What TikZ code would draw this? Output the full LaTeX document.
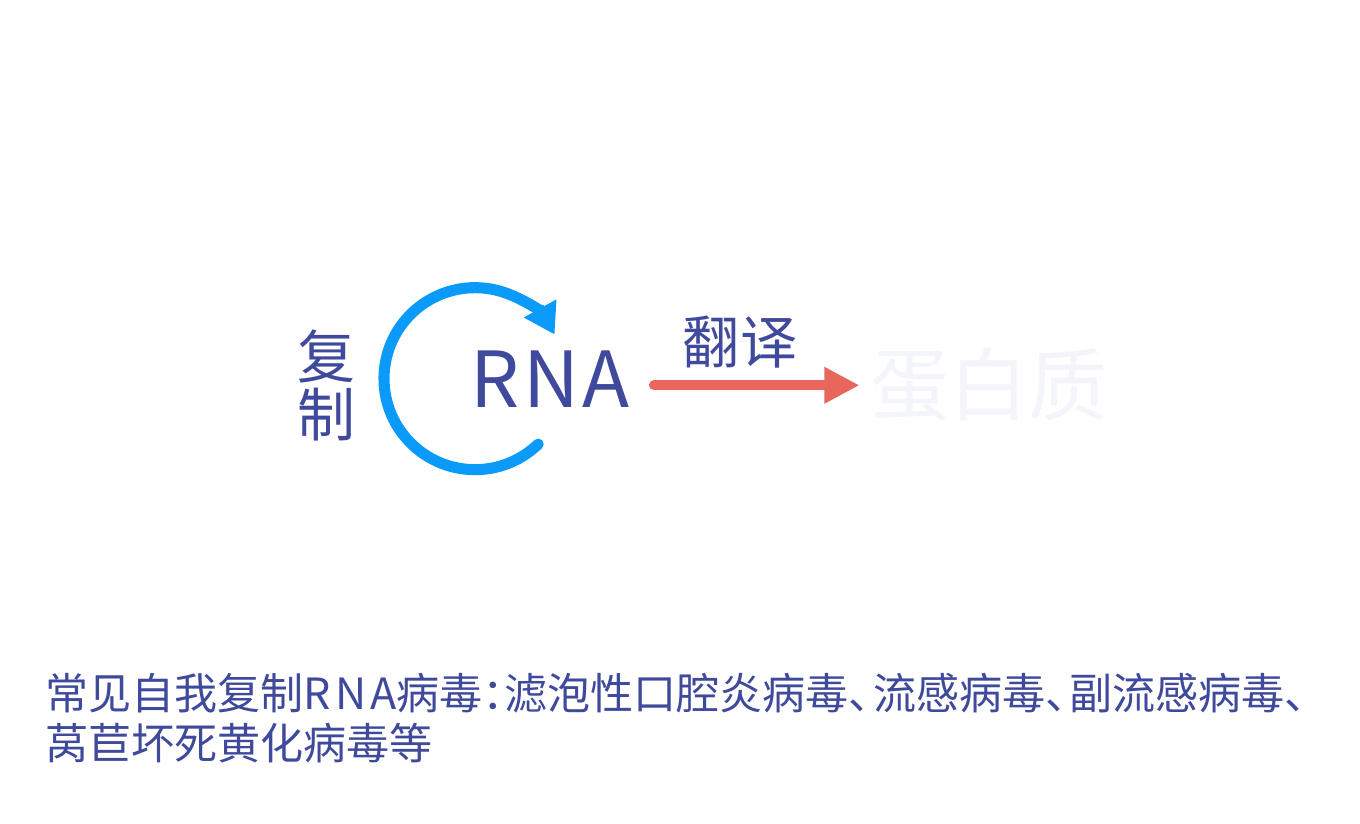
\documentclass[tikz,border=0pt]{standalone}
\usepackage{fontspec}
\setmainfont{Noto Sans CJK SC}
\newfontfamily\notafont[RawFeature=+halt]{Noto Sans CJK SC}
\usetikzlibrary{arrows.meta}
\definecolor{virIndigo}{HTML}{3F4A9C}
\definecolor{virCielo}{HTML}{0A9BFA}
\definecolor{virCoral}{HTML}{E8665C}
\definecolor{virNiebla}{HTML}{F3F5FA}
\newcommand{\espaciado}[2]{{\addfontfeature{LetterSpace=#1}#2}}
\newcommand{\pausa}{、\kern1.6pt}

\begin{document}
\begin{tikzpicture}[x=0.02cm, y=-0.02cm,
      etiqueta/.style={text=virIndigo, inner sep=0pt},
      ciclo/.style={draw=virCielo, line width=6.3pt, line cap=round,
                    -{Triangle[length=17pt,width=20pt]}},
      flecha/.style={draw=virCoral, line width=5.7pt, line cap=round,
                     -{Triangle[length=20pt,width=19.5pt]}}]
    \fill[white] (0,0) rectangle (1360,824);
    \useasboundingbox (0,0) rectangle (1360,824);
    \node[etiqueta, anchor=base, font=\fontsize{44}{44}\selectfont] (rna) at (550,407) {\espaciado{5}{RNA}};
    \node[etiqueta, align=center, font=\fontsize{33}{33}\selectfont] (fuzhi) at (326,385) {复\\制};
    \node[etiqueta, anchor=base, font=\fontsize{32.5}{32.5}\selectfont] (fanyi) at (740,364) {翻译};
    \node[inner sep=0pt, text=virNiebla, anchor=base, font=\fontsize{45}{45}\selectfont] (danbai) at (989,415) {蛋白质};
    % ciclo de replicacion alrededor de RNA
    \draw[ciclo] (rna.center) ++(-75,0) ++(46:91) arc[start angle=46, end angle=331, radius=91];
    \draw[flecha, shorten <=13.5pt, shorten >=6pt] (rna.east |- danbai.west) -- (danbai.west);
    % nota al pie
    \node[etiqueta, anchor=base west, font=\notafont\fontsize{24.5}{24.5}\selectfont] (nota) at (45,709)
      {常见自我复制\espaciado{10}{RNA}病毒：滤泡性口腔炎病毒\pausa 流感病毒\pausa 副流感病毒、};
    \node[etiqueta, anchor=base west, font=\notafont\fontsize{24.5}{24.5}\selectfont] (notacont) at (45,759)
      {莴苣坏死黄化病毒等};
  \end{tikzpicture}
\end{document}
